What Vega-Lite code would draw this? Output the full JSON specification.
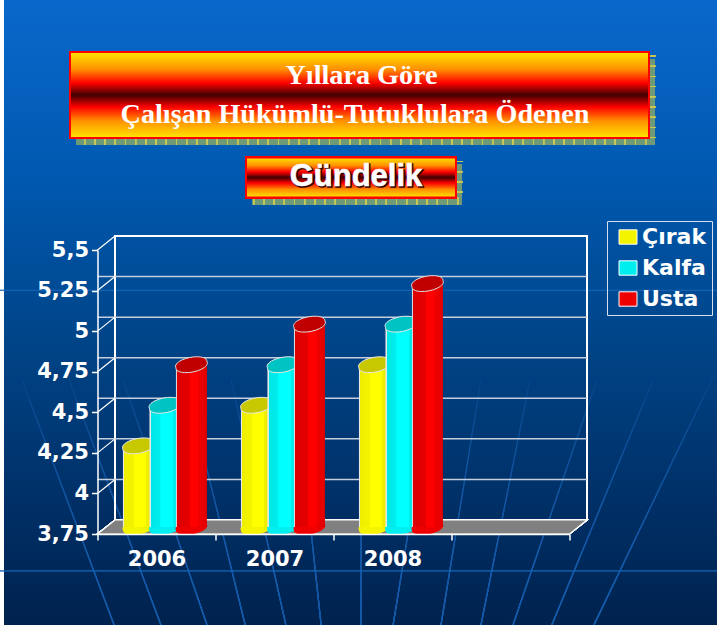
{
"$schema":"https://vega.github.io/schema/vega-lite/v6.json",
"width":472,"height":284,
"autosize":{"type":"none"},
"padding":{"left":97.5,"top":250,"right":147.5,"bottom":91},
"background":"#ffffff",
"config":{"view":{"stroke":null},
"axisX":{"title":null,"domainColor":"#ffffff","domainWidth":1.5,"tickColor":"#ffffff","tickWidth":1.5,"tickSize":6,"labelAngle":0,"labelColor":"#ffffff","labelFont":"DejaVu Sans","labelFontWeight":"bold","labelFontSize":21,"labelPadding":8,"grid":false,"labelExpr":"datum.label=='2009'?'':datum.label"},
"axisY":{"title":null,"domainColor":"#ffffff","domainWidth":1.5,"tickColor":"#ffffff","tickWidth":1.5,"tickSize":6,"labelColor":"#ffffff","labelFont":"DejaVu Sans","labelFontWeight":"bold","labelFontSize":21,"labelPadding":3,"grid":false,"labelExpr":"replace(format(datum.value,'.2~f'),'.',',')"}
},
"data":{"values":[
{"year":"2006","series":"Çırak","value":4.25},{"year":"2006","series":"Kalfa","value":4.5},{"year":"2006","series":"Usta","value":4.75},
{"year":"2007","series":"Çırak","value":4.5},{"year":"2007","series":"Kalfa","value":4.75},{"year":"2007","series":"Usta","value":5},
{"year":"2008","series":"Çırak","value":4.75},{"year":"2008","series":"Kalfa","value":5},{"year":"2008","series":"Usta","value":5.25}
]},
"layer":[
{"mark":{"type":"point","shape":"M-1,-.8766H1V.8766H-1Z","size":508369,"filled":true,"opacity":1,"strokeWidth":0,"xOffset":204,"yOffset":-221.5,"fill":{"gradient":"linear","x1":0,"y1":0,"x2":0,"y2":1,"stops":[{"offset":0,"color":"#0a68cc"},{"offset":0.3,"color":"#0058ae"},{"offset":0.55,"color":"#004487"},{"offset":0.8,"color":"#003067"},{"offset":1,"color":"#00224e"}]}},
"encoding":{"x":{"datum":"2006","type":"nominal","scale":{"domain":["2006","2007","2008","2009"],"paddingInner":0,"paddingOuter":0}},"y":{"datum":3.75,"type":"quantitative","scale":{"domain":[3.75,5.5],"nice":false,"zero":false}}}},
{"mark":{"type":"point","shape":"M-.683,.869L-.939,.189M-.553,.869L-.808,.189M-.425,.869L-.658,.189M-.319,.869L-.486,.189M-.206,.869L-.358,.189M-.108,.869L-.181,.189M.003,.869L.003,.189M.092,.869L.203,.189M.225,.869L.336,.189M.336,.869L.472,.189M.425,.869L.658,.189M.533,.869L.814,.189M.65,.869L1,.14","size":518400,"filled":false,"opacity":1,"strokeWidth":1.2,"xOffset":203.5,"yOffset":-222,"stroke":{"gradient":"linear","x1":0,"y1":0,"x2":0,"y2":1,"stops":[{"offset":0,"color":"rgba(20,90,170,0)"},{"offset":0.6,"color":"rgba(20,90,170,0.25)"},{"offset":1,"color":"rgba(20,90,170,0.55)"}]}},
"encoding":{"x":{"datum":"2006","type":"nominal"},"y":{"datum":3.75,"type":"quantitative"}}},
{"mark":{"type":"point","shape":"M-1,.719H1M-1,-.06H1","size":518400,"filled":false,"opacity":1,"strokeWidth":1.2,"xOffset":203.5,"yOffset":-222,"stroke":"#1a66b8","strokeOpacity":0.2},
"encoding":{"x":{"datum":"2006","type":"nominal"},"y":{"datum":3.75,"type":"quantitative"}}},
{"mark":{"type":"point","shape":"M-1,-.1485H1V.1485H-1Z","size":335241,"filled":true,"opacity":1,"strokeWidth":0,"fill":"#6f9a78","xOffset":209,"yOffset":-432},
"encoding":{"x":{"datum":"2006","type":"nominal"},"y":{"datum":3.75,"type":"quantitative"}}},
{"mark":{"type":"point","shape":"M1,-.1485V.1485H-.99","size":335241,"filled":false,"opacity":1,"strokeWidth":7,"stroke":"#c8c854","strokeDash":[1,9.2],"xOffset":206,"yOffset":-435.5},
"encoding":{"x":{"datum":"2006","type":"nominal"},"y":{"datum":3.75,"type":"quantitative"}}},
{"mark":{"type":"point","shape":"M-1,-.1485H1V.1485H-1Z","size":335241,"filled":true,"opacity":1,"strokeWidth":2,"stroke":"#ff0000","xOffset":203,"yOffset":-439,"fill":{"gradient":"linear","x1":0,"y1":0,"x2":0,"y2":1,"stops":[{"offset":0,"color":"#ffe600"},{"offset":0.2,"color":"#ff9000"},{"offset":0.36,"color":"#ff0000"},{"offset":0.5,"color":"#400000"},{"offset":0.64,"color":"#ff0000"},{"offset":0.8,"color":"#ff9000"},{"offset":1,"color":"#ffe600"}]}},
"encoding":{"x":{"datum":"2006","type":"nominal"},"y":{"datum":3.75,"type":"quantitative"}}},
{"mark":{"type":"point","shape":"M-1,-.1905H1V.1905H-1Z","size":44100,"filled":true,"opacity":1,"strokeWidth":0,"fill":"#6f9a78","xOffset":200.5,"yOffset":-349.5},
"encoding":{"x":{"datum":"2006","type":"nominal"},"y":{"datum":3.75,"type":"quantitative"}}},
{"mark":{"type":"point","shape":"M1,-.1905V.1905H-.975","size":44100,"filled":false,"opacity":1,"strokeWidth":7,"stroke":"#c8c854","strokeDash":[1,9.2],"xOffset":197.5,"yOffset":-353},
"encoding":{"x":{"datum":"2006","type":"nominal"},"y":{"datum":3.75,"type":"quantitative"}}},
{"mark":{"type":"point","shape":"M-1,-.1905H1V.1905H-1Z","size":44100,"filled":true,"opacity":1,"strokeWidth":2,"stroke":"#ff0000","xOffset":194.5,"yOffset":-356.5,"fill":{"gradient":"linear","x1":0,"y1":0,"x2":0,"y2":1,"stops":[{"offset":0,"color":"#ffe600"},{"offset":0.2,"color":"#ff9000"},{"offset":0.36,"color":"#ff0000"},{"offset":0.5,"color":"#400000"},{"offset":0.64,"color":"#ff0000"},{"offset":0.8,"color":"#ff9000"},{"offset":1,"color":"#ffe600"}]}},
"encoding":{"x":{"datum":"2006","type":"nominal"},"y":{"datum":3.75,"type":"quantitative"}}},
{"data":{"values":[{"text":"Yıllara Göre"}]},"mark":{"type":"text","font":"Liberation Serif","fontWeight":"bold","fontSize":28.2,"color":"#ffffff","align":"center","baseline":"middle","xOffset":205,"yOffset":-458},
"encoding":{"x":{"datum":"2006","type":"nominal"},"y":{"datum":3.75,"type":"quantitative"},"text":{"field":"text"}}},
{"data":{"values":[{"text":"Çalışan Hükümlü-Tutuklulara Ödenen"}]},"mark":{"type":"text","font":"Liberation Serif","fontWeight":"bold","fontSize":28.2,"color":"#ffffff","align":"center","baseline":"middle","xOffset":198.5,"yOffset":-419},
"encoding":{"x":{"datum":"2006","type":"nominal"},"y":{"datum":3.75,"type":"quantitative"},"text":{"field":"text"}}},
{"data":{"values":[{"text":"Gündelik"}]},"mark":{"type":"text","font":"Liberation Sans","fontWeight":"bold","fontSize":31,"color":"#300000","stroke":"#300000","strokeWidth":1.5,"align":"center","baseline":"middle","xOffset":200.5,"yOffset":-356},
"encoding":{"x":{"datum":"2006","type":"nominal"},"y":{"datum":3.75,"type":"quantitative"},"text":{"field":"text"}}},
{"data":{"values":[{"text":"Gündelik"}]},"mark":{"type":"text","font":"Liberation Sans","fontWeight":"bold","fontSize":31,"color":"#ffffff","stroke":"#ffffff","strokeWidth":0.6,"align":"center","baseline":"middle","xOffset":199.5,"yOffset":-357},
"encoding":{"x":{"datum":"2006","type":"nominal"},"y":{"datum":3.75,"type":"quantitative"},"text":{"field":"text"}}},
{"mark":{"type":"point","shape":"M-1,-.6017H1V.6017H-1Z","size":222784,"filled":false,"opacity":1,"strokeWidth":1.5,"stroke":"#ffffff","xOffset":194.5,"yOffset":-156},
"encoding":{"x":{"datum":"2006","type":"nominal"},"y":{"datum":3.75,"type":"quantitative"}}},
{"data":{"values":[{"level":4},{"level":4.25},{"level":4.5},{"level":4.75},{"level":5},{"level":5.25}]},"mark":{"type":"rule","stroke":"#c4cedd","strokeWidth":1.5,"xOffset":17.5,"yOffset":-14},
"encoding":{"y":{"field":"level","type":"quantitative","axis":{"zindex":1,"values":[3.75,4,4.25,4.5,4.75,5,5.25,5.5]}}}},
{"data":{"values":[{"level":4},{"level":4.25},{"level":4.5},{"level":4.75},{"level":5},{"level":5.25},{"level":5.5}]},"mark":{"type":"point","shape":"M-1,.8L1,-.8","size":306,"filled":false,"opacity":1,"strokeWidth":1.2,"stroke":"#ffffff","xOffset":-50.25,"yOffset":-7},
"encoding":{"x":{"datum":"2006","type":"nominal"},"y":{"field":"level","type":"quantitative"}}},
{"mark":{"type":"point","shape":"M-1,.0286L.9285,.0286L1,-.0286L-.9285,-.0286Z","size":239610,"filled":true,"opacity":1,"fill":"#808080","stroke":"#ffffff","strokeWidth":1.2,"xOffset":185.75,"yOffset":-7},
"encoding":{"x":{"datum":"2006","type":"nominal"},"y":{"datum":3.75,"type":"quantitative"}}},
{"mark":{"type":"point","shape":"M-1,.2A1.03,.42 -11 1 1 1,-.2A1.03,.42 -11 1 1 -1,.2Z","size":961,"filled":true,"opacity":1,"strokeWidth":0,"yOffset":-7},
"encoding":{"x":{"field":"year","type":"nominal","axis":{"zindex":1,"tickBand":"extent"}},"xOffset":{"field":"series","type":"nominal","sort":["Çırak","Kalfa","Usta"],"scale":{"range":[27.7,107.2],"paddingInner":0,"paddingOuter":0}},"y":{"datum":3.75,"type":"quantitative"},
"color":{"field":"series","type":"nominal","scale":{"domain":["Çırak","Kalfa","Usta"],"range":["#f4f400","#00eeee","#ee0000"]},
"legend":{"orient":"none","legendX":509.5,"legendY":-29,"title":null,"fillColor":null,"strokeColor":"#d6dfee","padding":5,"symbolOffset":5,"symbolType":"M-1,-.8H1V.8H-1Z","symbolSize":324,"symbolStrokeColor":"#ffffff","symbolStrokeWidth":1,"labelColor":"#ffffff","labelFont":"DejaVu Sans","labelFontWeight":"bold","labelFontSize":22,"labelOffset":3,"rowPadding":9,"values":["Çırak","Kalfa","Usta"],"symbolOpacity":1}}}},
{"transform":[{"filter":"datum.series=='Çırak'"}],"mark":{"type":"bar","width":31,"yOffset":-7,"y2Offset":-7,"fill":{"gradient":"linear","x1":0,"y1":0,"x2":1,"y2":0,"stops":[{"offset":0,"color":"#e8e8e8"},{"offset":0.04,"color":"#e8e8e8"},{"offset":0.05,"color":"#eeee00"},{"offset":0.35,"color":"#f4f400"},{"offset":0.36,"color":"#ffff00"},{"offset":0.75,"color":"#ffff00"},{"offset":0.76,"color":"#f0f000"},{"offset":1,"color":"#e6e600"}]}},
"encoding":{"x":{"field":"year","type":"nominal"},"xOffset":{"field":"series","type":"nominal","sort":["Çırak","Kalfa","Usta"]},"y":{"field":"value","type":"quantitative"},"y2":{"datum":3.75}}},
{"transform":[{"filter":"datum.series=='Çırak'"}],"mark":{"type":"point","shape":"M-1,.2A1.03,.42 -11 1 1 1,-.2A1.03,.42 -11 1 1 -1,.2Z","size":961,"filled":true,"opacity":1,"fill":"#c8c800","stroke":"#e8e8e8","strokeWidth":1,"yOffset":-7},
"encoding":{"x":{"field":"year","type":"nominal"},"xOffset":{"field":"series","type":"nominal","sort":["Çırak","Kalfa","Usta"]},"y":{"field":"value","type":"quantitative"}}},
{"transform":[{"filter":"datum.series=='Kalfa'"}],"mark":{"type":"bar","width":31,"yOffset":-7,"y2Offset":-7,"fill":{"gradient":"linear","x1":0,"y1":0,"x2":1,"y2":0,"stops":[{"offset":0,"color":"#e8e8e8"},{"offset":0.04,"color":"#e8e8e8"},{"offset":0.05,"color":"#00e6e6"},{"offset":0.35,"color":"#00eeee"},{"offset":0.36,"color":"#00ffff"},{"offset":0.75,"color":"#00ffff"},{"offset":0.76,"color":"#00eeee"},{"offset":1,"color":"#00e0e0"}]}},
"encoding":{"x":{"field":"year","type":"nominal"},"xOffset":{"field":"series","type":"nominal","sort":["Çırak","Kalfa","Usta"]},"y":{"field":"value","type":"quantitative"},"y2":{"datum":3.75}}},
{"transform":[{"filter":"datum.series=='Kalfa'"}],"mark":{"type":"point","shape":"M-1,.2A1.03,.42 -11 1 1 1,-.2A1.03,.42 -11 1 1 -1,.2Z","size":961,"filled":true,"opacity":1,"fill":"#00c4c4","stroke":"#e8e8e8","strokeWidth":1,"yOffset":-7},
"encoding":{"x":{"field":"year","type":"nominal"},"xOffset":{"field":"series","type":"nominal","sort":["Çırak","Kalfa","Usta"]},"y":{"field":"value","type":"quantitative"}}},
{"transform":[{"filter":"datum.series=='Usta'"}],"mark":{"type":"bar","width":31,"yOffset":-7,"y2Offset":-7,"fill":{"gradient":"linear","x1":0,"y1":0,"x2":1,"y2":0,"stops":[{"offset":0,"color":"#d8d8d8"},{"offset":0.04,"color":"#d8d8d8"},{"offset":0.05,"color":"#dc0000"},{"offset":0.45,"color":"#e60000"},{"offset":0.46,"color":"#ff0000"},{"offset":0.72,"color":"#ff0000"},{"offset":0.73,"color":"#f00000"},{"offset":1,"color":"#e00000"}]}},
"encoding":{"x":{"field":"year","type":"nominal"},"xOffset":{"field":"series","type":"nominal","sort":["Çırak","Kalfa","Usta"]},"y":{"field":"value","type":"quantitative"},"y2":{"datum":3.75}}},
{"transform":[{"filter":"datum.series=='Usta'"}],"mark":{"type":"point","shape":"M-1,.2A1.03,.42 -11 1 1 1,-.2A1.03,.42 -11 1 1 -1,.2Z","size":961,"filled":true,"opacity":1,"fill":"#c00000","stroke":"#e0e0e0","strokeWidth":1,"yOffset":-7},
"encoding":{"x":{"field":"year","type":"nominal"},"xOffset":{"field":"series","type":"nominal","sort":["Çırak","Kalfa","Usta"]},"y":{"field":"value","type":"quantitative"}}}
]
}
